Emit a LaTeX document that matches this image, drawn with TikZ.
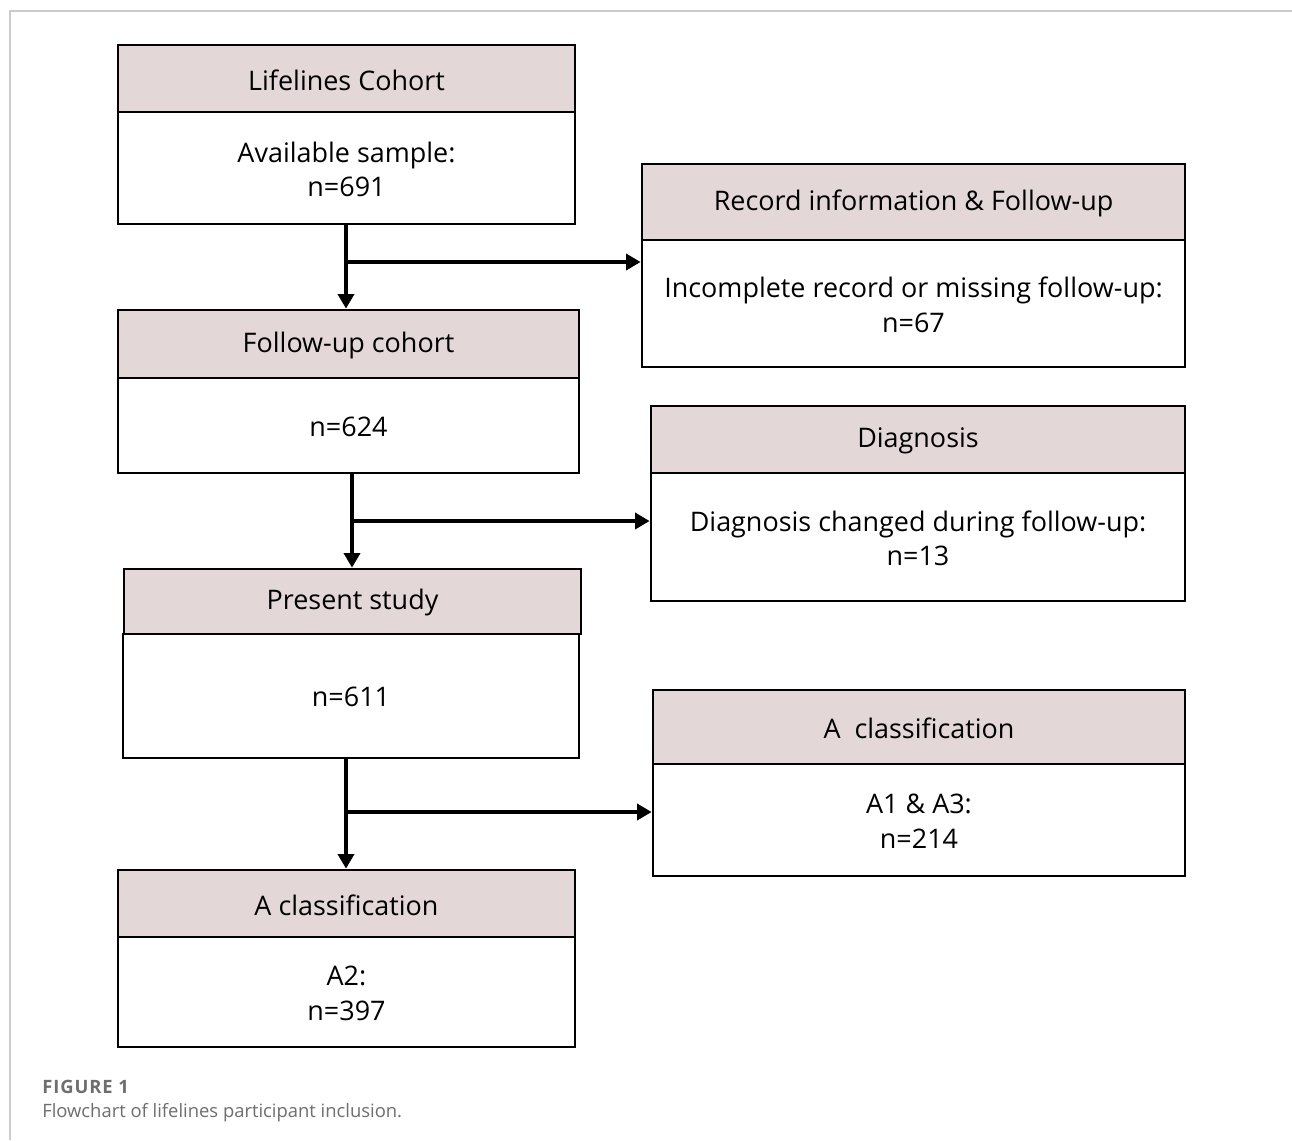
\documentclass[tikz,border=0pt]{standalone}
\usepackage{fontspec}
\setmainfont{Open Sans}
\usetikzlibrary{arrows.meta,fit}
\definecolor{hdrfill}{HTML}{E3D7D8}
\definecolor{framegray}{HTML}{CCCCCC}
\definecolor{capgray}{HTML}{6E6E6E}
\begin{document}
\begin{tikzpicture}[x=0.75pt,y=-0.75pt,
  box/.style={draw=black, line width=2pt, inner sep=0pt},
  hdr/.style={box, fill=hdrfill},
  bod/.style={box, fill=white},
  txt/.style={inner sep=0pt, align=center, yshift=-1pt,
    font=\fontsize{20.2}{26}\selectfont},
  arr/.style={line width=3.6pt, -{Triangle[length=11pt,width=12pt]}},
  captext/.style={anchor=base west, inner sep=0pt, text=capgray, font=\fontsize{13.8}{17}\selectfont}]
\useasboundingbox (0,0) rectangle (1292,1140);
\fill[white] (0,0) rectangle (1292,1140);
\draw[framegray, line width=1.2pt] (10,1140) -- (10,11) -- (1292,11);
% left column
\node[hdr, fit={(118,45)(575,112)}] (h1) {};
\node[bod, fit={(118,112)(575,224)}] (b1) {};
\node[hdr, fit={(118,310)(579,378)}] (h3) {};
\node[bod, fit={(118,378)(579,473)}] (b3) {};
\node[hdr, fit={(124,569)(581,634)}] (h5) {};
\node[bod, fit={(123,634)(579,758)}] (b5) {};
\node[hdr, fit={(118,870)(575,937)}] (h7) {};
\node[bod, fit={(118,937)(575,1047)}] (b7) {};
% right column
\node[hdr, fit={(642,164)(1185,240)}] (h2) {};
\node[bod, fit={(642,240)(1185,367)}] (b2) {};
\node[hdr, fit={(651,406)(1185,473)}] (h4) {};
\node[bod, fit={(651,473)(1185,601)}] (b4) {};
\node[hdr, fit={(653,690)(1185,764)}] (h6) {};
\node[bod, fit={(653,764)(1185,876)}] (b6) {};
% texts
\node[txt] (th1) at (h1) {Lifelines Cohort};
\node[txt] (tb1) at (b1) {Available sample:\\n=691};
\node[txt] (th3) at (h3) {Follow-up cohort};
\node[txt] (tb3) at (b3) {n=624};
\node[txt] (th5) at (h5) {Present study};
\node[txt] (tb5) at (b5) {n=611};
\node[txt] (th7) at (h7) {A classification};
\node[txt] (tb7) at (b7) {A2:\\n=397};
\node[txt] (th2) at (h2) {Record information \& Follow-up};
\node[txt] (tb2) at (b2) {Incomplete record or missing follow-up:\\n=67};
\node[txt] (th4) at (h4) {Diagnosis};
\node[txt] (tb4) at (b4) {Diagnosis changed during follow-up:\\n=13};
\node[txt] (th6) at (h6) {A\ \ classification};
\node[txt] (tb6) at (b6) {A1 \& A3:\\n=214};
% connectors
\coordinate (j1) at (346,262);
\coordinate (j2) at (352,521);
\coordinate (j3) at (346,812);
\draw[arr] (b1.south -| j1) -- (h3.north -| j1);
\draw[arr] (j1) -- (j1 -| b2.west);
\draw[arr] (b3.south -| j2) -- (h5.north -| j2);
\draw[arr] (j2) -- (j2 -| b4.west);
\draw[arr] (b5.south -| j3) -- (h7.north -| j3);
\draw[arr] (j3) -- (j3 -| b6.west);
% caption
\node[captext, font=\fontsize{13.8}{17}\selectfont\bfseries\addfontfeature{LetterSpace=5}] (c1) at (42,1093) {FIGURE 1};
\node[captext] (c2) at (42,1117) {Flowchart of lifelines participant inclusion.};
\end{tikzpicture}
\end{document}
